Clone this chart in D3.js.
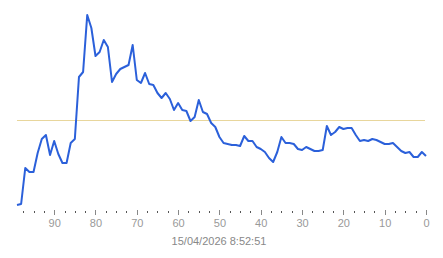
<!DOCTYPE html>
<html>
<head>
<meta charset="utf-8">
<script src="https://cdn.jsdelivr.net/npm/d3@7"></script>
<style>
  body { margin: 0; background: #fff; }
  text { font-family: "Liberation Sans", Arial, sans-serif; }
</style>
</head>
<body>
<div id="chart"></div>
<script>
// Env params
const svg_width = 443;
const svg_height = 258;

// data: seconds ago (99 .. 0) and value
const ages = d3.range(99, -1, -1);
const values = [
  2.5, 3, 21, 19, 19, 28.5, 35.5, 37.5, 27.5, 34.5,
  28, 23.5, 23.5, 33.5, 35.5, 66.5, 69, 97.5, 91, 77,
  79, 85, 81.5, 64, 68, 70.5, 71.5, 72.5, 82.5, 65,
  63.5, 68.5, 63, 62.5, 58.5, 56, 58.5, 55.5, 50, 53.5,
  50, 49.5, 44.5, 46.5, 55, 49, 48, 43.5, 41.5, 36.5,
  33.5, 33, 32.5, 32.5, 32, 37, 34.5, 34.5, 31.5, 30.5,
  29, 26, 24, 29, 36.5, 33.5, 33.5, 33, 30.5, 30,
  31.5, 30.5, 29.5, 29.5, 30, 42, 37.5, 39, 41.5, 40.5,
  41, 41, 37.5, 34.5, 35, 34.5, 35.5, 35, 34, 33,
  33, 33.5, 31.5, 29.5, 28.5, 29, 26.5, 26.5, 29, 27
];
const reference_value = 45;
const major_ticks = [90, 80, 70, 60, 50, 40, 30, 20, 10, 0];
const minor_ticks = d3.range(0, 99, 2.5);
const time_label = "15/04/2026 8:52:51";

// draw svg canvas
var svg = d3.select('#chart').append('svg')
  .attr('width', svg_width)
  .attr('height', svg_height);

var x = d3.scaleLinear().domain([99, 0]).range([17, 426]);
var y = d3.scaleLinear().domain([0, 100]).range([210, 10]);

// reference line
svg.append('line')
  .attr('x1', x(99))
  .attr('x2', x(0) - 1)
  .attr('y1', Math.round(y(reference_value)) + 0.5)
  .attr('y2', Math.round(y(reference_value)) + 0.5)
  .attr('stroke', '#e8d69c')
  .attr('stroke-width', 1);

// the series line
var line = d3.line()
  .x((d, i) => x(ages[i]))
  .y(d => y(d));

svg.append('path')
  .datum(values)
  .attr('fill', 'none')
  .attr('stroke', '#2b60da')
  .attr('stroke-width', 2)
  .attr('stroke-linejoin', 'round')
  .attr('d', line);

// minor ticks (dots)
var axis_y = 211;
var tick_group = svg.append('g');
tick_group.selectAll('.minor')
  .data(minor_ticks.filter(d => d % 10 !== 0))
  .enter().append('rect')
  .attr('class', 'minor')
  .attr('fill', '#555')
  .attr('x', d => Math.round(x(d)))
  .attr('y', axis_y)
  .attr('width', 1)
  .attr('height', 2);

// major ticks
tick_group.selectAll('.major')
  .data(major_ticks)
  .enter().append('rect')
  .attr('class', 'major')
  .attr('fill', '#888')
  .attr('x', d => Math.round(x(d)))
  .attr('y', axis_y - 1)
  .attr('width', 1)
  .attr('height', 5);

// tick labels
svg.selectAll('.tick_label')
  .data(major_ticks)
  .enter().append('text')
  .attr('class', 'tick_label')
  .attr('x', d => x(d) + 0.5)
  .attr('y', 227)
  .attr('text-anchor', 'middle')
  .attr('fill', '#999')
  .style('font-size', '11px')
  .text(d => d);

// time label
svg.append('text')
  .attr('x', 219)
  .attr('y', 245)
  .attr('text-anchor', 'middle')
  .attr('fill', '#888')
  .style('font-size', '11px')
  .text(time_label);
</script>
</body>
</html>
